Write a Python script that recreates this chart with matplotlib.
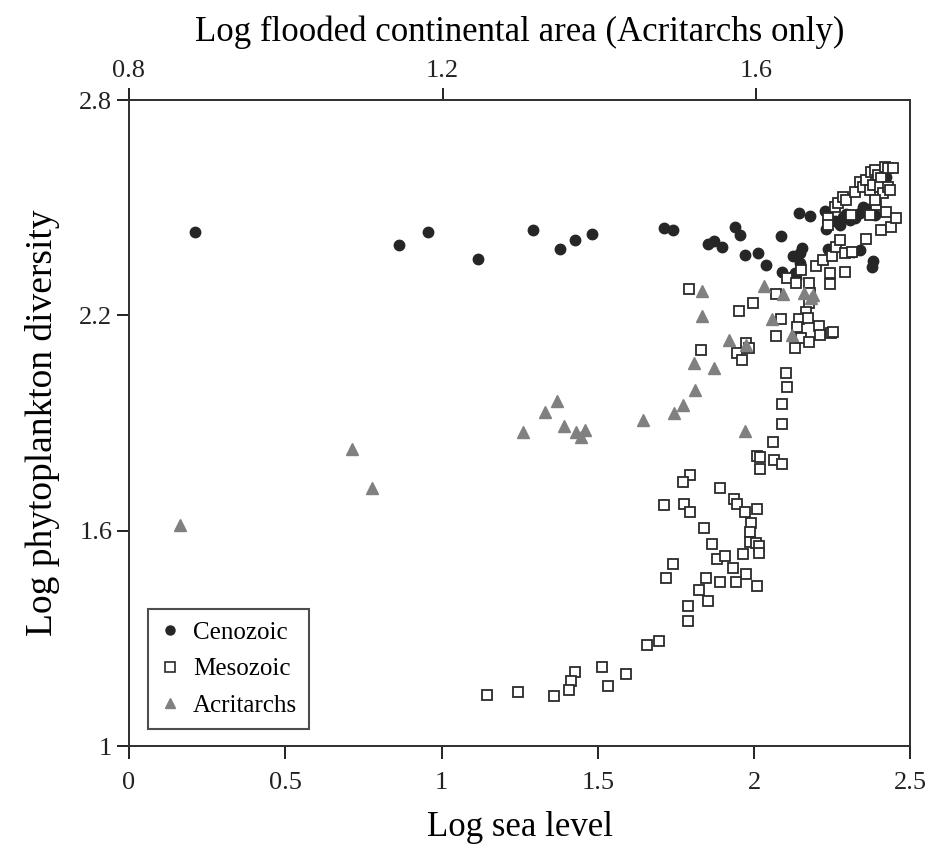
import matplotlib
matplotlib.use("Agg")
import matplotlib.pyplot as plt
from matplotlib.lines import Line2D

# ---------------- data ----------------
ceno_x = [0.211, 0.863, 0.957, 1.117, 1.291, 1.378, 1.427, 1.481, 1.712, 1.740,
          1.853, 1.872, 1.896, 1.940, 1.956, 1.971, 2.012, 2.038, 2.087, 2.124,
          2.154, 2.146, 2.146, 2.090, 2.130, 2.133, 2.144, 2.177, 2.226, 2.229,
          2.236, 2.274, 2.284, 2.295, 2.322, 2.338, 2.348, 2.386, 2.300, 2.316,
          2.338, 2.380, 2.377, 2.423, 2.258, 2.305, 2.360, 2.410]
ceno_y = [2.431, 2.396, 2.431, 2.357, 2.438, 2.386, 2.409, 2.426, 2.443, 2.438,
          2.400, 2.407, 2.390, 2.446, 2.423, 2.367, 2.373, 2.339, 2.422, 2.364,
          2.388, 2.373, 2.346, 2.320, 2.318, 2.304, 2.484, 2.477, 2.491, 2.440,
          2.386, 2.452, 2.475, 2.482, 2.472, 2.484, 2.503, 2.480, 2.377, 2.376,
          2.382, 2.351, 2.336, 2.586, 2.462, 2.465, 2.495, 2.575]

meso_x = [1.792, 1.952, 1.997, 1.829, 1.975, 1.984, 1.945, 1.961, 2.071, 2.087,
          2.071, 2.101, 2.105, 2.090, 2.090, 2.105, 2.135, 2.151, 2.176, 2.178,
          2.176, 2.167, 2.143, 2.172, 2.138, 2.151, 2.175, 2.131, 2.207, 2.212,
          2.245, 2.252, 2.199, 2.220, 2.242, 2.244, 2.290, 2.249, 2.263, 2.274,
          2.290, 2.314, 2.357, 2.236, 2.236, 2.258, 2.268, 2.284, 2.295, 2.322,
          2.338, 2.348, 2.359, 2.370, 2.380, 2.375, 2.386, 2.396, 2.407, 2.418,
          2.428, 2.444, 2.402, 2.412, 2.428, 2.434, 2.391, 2.370, 2.407, 2.423,
          2.439, 2.455, 2.386, 2.311,
          2.060, 2.009, 2.018, 2.065, 2.090, 2.020, 1.796, 1.773, 1.892, 1.713,
          1.777, 1.796, 1.935, 1.945, 1.971, 2.009, 1.841, 1.991, 1.986, 1.988,
          2.005, 2.015, 2.016, 1.866, 1.881, 1.906, 1.965, 1.931, 1.975, 1.740,
          1.717, 1.847, 1.892, 1.943, 2.008, 1.822, 1.852, 1.789, 1.789, 1.658,
          1.696, 1.513, 1.590, 1.531, 1.427, 1.415, 1.407, 1.359, 1.244, 1.144]
meso_y = [2.273, 2.211, 2.234, 2.104, 2.122, 2.108, 2.094, 2.076, 2.259, 2.189,
          2.142, 2.038, 2.001, 1.952, 1.897, 2.303, 2.289, 2.326, 2.289, 2.262,
          2.234, 2.210, 2.190, 2.192, 2.167, 2.136, 2.127, 2.108, 2.169, 2.144,
          2.150, 2.153, 2.338, 2.354, 2.319, 2.287, 2.322, 2.365, 2.391, 2.410,
          2.373, 2.376, 2.413, 2.470, 2.452, 2.503, 2.512, 2.531, 2.521, 2.545,
          2.572, 2.558, 2.577, 2.549, 2.563, 2.600, 2.605, 2.591, 2.582, 2.614,
          2.610, 2.610, 2.558, 2.540, 2.558, 2.549, 2.507, 2.480, 2.438, 2.489,
          2.447, 2.470, 2.521, 2.480,
          1.847, 1.808, 1.805, 1.797, 1.786, 1.772, 1.755, 1.737, 1.718, 1.672,
          1.674, 1.653, 1.688, 1.674, 1.653, 1.660, 1.607, 1.621, 1.597, 1.569,
          1.567, 1.556, 1.539, 1.562, 1.520, 1.529, 1.536, 1.497, 1.479, 1.507,
          1.467, 1.467, 1.456, 1.458, 1.446, 1.435, 1.403, 1.390, 1.347, 1.281,
          1.293, 1.221, 1.201, 1.168, 1.205, 1.181, 1.155, 1.139, 1.150, 1.142]

# Acritarchs: x is log flooded continental area (top axis)
acri_x = [1.531, 1.531, 1.610, 1.634, 1.661, 1.672, 1.670, 1.620, 1.646, 1.587,
          1.565, 1.521, 1.546, 1.522, 1.507, 1.495, 1.456, 1.346, 1.331, 1.355,
          1.303, 1.370, 1.382, 1.377, 1.585, 1.085, 1.110, 0.865]
acri_y = [2.269, 2.199, 2.282, 2.259, 2.262, 2.257, 2.248, 2.189, 2.145, 2.117,
          2.130, 2.068, 2.052, 1.992, 1.950, 1.929, 1.908, 1.962, 1.932, 1.892,
          1.876, 1.876, 1.881, 1.862, 1.878, 1.828, 1.718, 1.616]

x_ticks = [0, 0.5, 1, 1.5, 2, 2.5]
x_ticklabels = ["0", "0.5", "1", "1.5", "2", "2.5"]
top_ticks = [0.8, 1.2, 1.6]
top_ticklabels = ["0.8", "1.2", "1.6"]
y_ticks = [1, 1.6, 2.2, 2.8]
y_ticklabels = ["1", "1.6", "2.2", "2.8"]

# ---------------- plot ----------------
plt.rcParams['font.family'] = ['Liberation Serif', 'DejaVu Serif']

fig = plt.figure(figsize=(9.3, 8.52), dpi=100)
ax = fig.add_axes([0.1387, 0.1244, 0.979 - 0.1387, 0.8826 - 0.1244])
ax2 = ax.twiny()

ax.plot(ceno_x, ceno_y, linestyle='none', marker='o', markersize=7.5,
        markerfacecolor='#262626', markeredgecolor='#262626', label='Cenozoic', zorder=3)
ax.plot(meso_x, meso_y, linestyle='none', marker='s', markersize=7.5,
        markerfacecolor='white', markeredgecolor='#2a2a2a', markeredgewidth=1.3,
        label='Mesozoic', zorder=4)
ax2.plot(acri_x, acri_y, linestyle='none', marker='^', markersize=8.5,
         markerfacecolor='#808080', markeredgecolor='#808080', label='Acritarchs', zorder=3)

ax.set_xlim(0, 2.5)
ax.set_ylim(1, 2.8)
ax2.set_xlim(0.8, 0.8 + 2.5 * 0.3986)

ax.set_xticks(x_ticks)
ax.set_xticklabels(x_ticklabels)
ax.set_yticks(y_ticks)
ax.set_yticklabels(y_ticklabels)
ax2.set_xticks(top_ticks)
ax2.set_xticklabels(top_ticklabels)

for a in (ax, ax2):
    for s in a.spines.values():
        s.set_linewidth(1.4)
        s.set_color('#333333')
ax.tick_params(axis='x', direction='out', length=9, width=1.4, labelsize=19,
               colors='#222222', pad=10)
ax.tick_params(axis='y', direction='out', length=9, width=1.4, labelsize=19,
               colors='#222222', pad=3)
ax2.tick_params(axis='x', direction='out', length=9, width=1.4, labelsize=19,
                colors='#222222', pad=4)

ax.set_xlabel('Log sea level', fontsize=25, labelpad=12)
ax.set_ylabel('Log phytoplankton diversity', fontsize=27, labelpad=14)
ax2.set_xlabel('Log flooded continental area (Acritarchs only)', fontsize=25, labelpad=14)

handles = [
    Line2D([], [], linestyle='none', marker='o', markersize=6.5,
           markerfacecolor='#262626', markeredgecolor='#262626'),
    Line2D([], [], linestyle='none', marker='s', markersize=6.5,
           markerfacecolor='white', markeredgecolor='#2a2a2a', markeredgewidth=1.2),
    Line2D([], [], linestyle='none', marker='^', markersize=7,
           markerfacecolor='#808080', markeredgecolor='#808080'),
]
leg = ax2.legend(handles, ['Cenozoic', 'Mesozoic', 'Acritarchs'], loc='lower left',
                 bbox_to_anchor=(0.024, 0.026), borderaxespad=0, fontsize=18,
                 frameon=True, fancybox=False, handlelength=0.8, handletextpad=0.5,
                 borderpad=0.5, labelspacing=0.55)
leg.get_frame().set_edgecolor('#222222')
leg.get_frame().set_linewidth(1.5)

fig.savefig('out.png', dpi=100)
